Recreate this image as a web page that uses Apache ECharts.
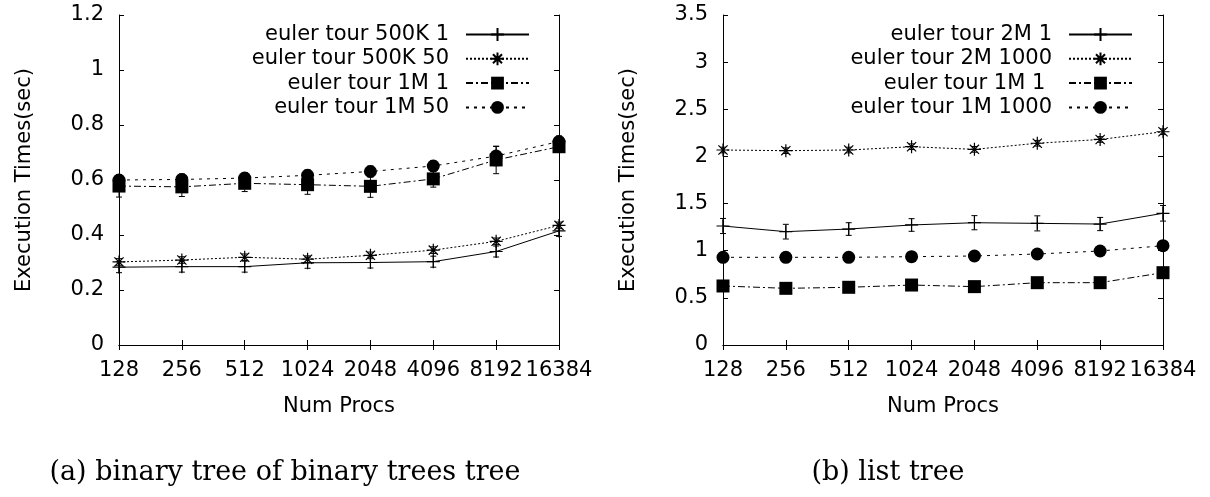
<!DOCTYPE html>
<html>
<head>
<meta charset="utf-8">
<script src="https://cdn.jsdelivr.net/npm/echarts@6/dist/echarts.min.js"></script>
<style>
  html, body { margin: 0; padding: 0; background: #fff; }
  #chart { width: 1210px; height: 497px; }
</style>
</head>
<body>
<div id="chart"></div>
<script>
// Number of processors (shared x axis of both panels)
const procs = ['128', '256', '512', '1024', '2048', '4096', '8192', '16384'];

// Panel (a): binary tree of binary trees tree — execution times (sec)
const bt500k1   = [0.283, 0.285, 0.285, 0.299, 0.300, 0.303, 0.340, 0.415];
const bt500k50  = [0.302, 0.309, 0.319, 0.312, 0.326, 0.345, 0.377, 0.435];
const bt1m1     = [0.578, 0.575, 0.588, 0.583, 0.577, 0.604, 0.673, 0.721];
const bt1m50    = [0.600, 0.602, 0.607, 0.617, 0.631, 0.651, 0.687, 0.740];
// half-widths of the error bars
const bt500k1Err  = [0.020, 0.020, 0.020, 0.020, 0.020, 0.020, 0.020, 0.020];
const bt500k50Err = [0.012, 0.012, 0.012, 0.012, 0.012, 0.012, 0.012, 0.012];
const bt1m1Err    = [0.040, 0.035, 0.030, 0.035, 0.040, 0.030, 0.050, 0.020];
const bt1m50Err   = [0.020, 0.020, 0.020, 0.020, 0.020, 0.020, 0.035, 0.020];

// Panel (b): list tree — execution times (sec)
const lt2m1     = [1.262, 1.202, 1.230, 1.273, 1.297, 1.290, 1.283, 1.397];
const lt2m1000  = [2.068, 2.061, 2.068, 2.103, 2.075, 2.140, 2.180, 2.262];
const lt1m1     = [0.626, 0.601, 0.612, 0.636, 0.619, 0.661, 0.661, 0.767];
const lt1m1000  = [0.930, 0.930, 0.930, 0.937, 0.944, 0.965, 0.997, 1.053];
const lt2m1Err    = [0.080, 0.078, 0.067, 0.067, 0.075, 0.080, 0.070, 0.083];
const lt2m1000Err = [0.030, 0.030, 0.030, 0.030, 0.030, 0.030, 0.030, 0.030];
const lt1m1Err    = [0.020, 0.020, 0.020, 0.020, 0.020, 0.020, 0.020, 0.020];
const lt1m1000Err = [0.020, 0.020, 0.020, 0.020, 0.020, 0.020, 0.020, 0.020];

// Tick settings of the value axes
const leftMax = 1.2, leftStep = 0.2;
const rightMax = 3.5, rightStep = 0.5;

const SANS = '"DejaVu Sans", sans-serif';
const SERIF = '"DejaVu Serif", serif';
const FS = 21;

// Stroked point glyphs (gnuplot-like plus and asterisk)
const plusSym = 'path://M0,6L12,6M6,0L6,12';
const starSym = 'path://M0,6L12,6M6,0L6,12M1.76,1.76L10.24,10.24M1.76,10.24L10.24,1.76';

function lineSeries(name, data, panel, symbol, dash, stroked) {
  return {
    type: 'line',
    name: name,
    data: data,
    xAxisIndex: panel * 2,
    yAxisIndex: panel * 2,
    symbol: symbol,
    symbolSize: 13,
    showAllSymbol: true,
    z: 3,
    lineStyle: { color: '#000', width: 1, type: dash },
    itemStyle: {
      color: stroked ? 'rgba(0,0,0,0)' : '#000',
      borderColor: '#000',
      borderWidth: stroked ? 1.2 : 0,
      opacity: 1
    },
    emphasis: { disabled: true }
  };
}

function errorSeries(values, errs, panel) {
  return {
    type: 'custom',
    xAxisIndex: panel * 2,
    yAxisIndex: panel * 2,
    silent: true,
    z: 2,
    encode: { x: 0, y: [1, 2] },
    data: values.map((v, i) => [i, v - errs[i], v + errs[i]]),
    renderItem: function (params, api) {
      const lo = api.coord([api.value(0), api.value(1)]);
      const hi = api.coord([api.value(0), api.value(2)]);
      const w = 3;
      const st = { stroke: '#000', lineWidth: 1 };
      return {
        type: 'group',
        children: [
          { type: 'line', shape: { x1: lo[0], y1: lo[1], x2: hi[0], y2: hi[1] }, style: st },
          { type: 'line', shape: { x1: lo[0] - w, y1: lo[1], x2: lo[0] + w, y2: lo[1] }, style: st },
          { type: 'line', shape: { x1: hi[0] - w, y1: hi[1], x2: hi[0] + w, y2: hi[1] }, style: st }
        ]
      };
    }
  };
}

function xAxes(grid) {
  const base = {
    type: 'category',
    gridIndex: grid,
    data: procs,
    boundaryGap: false,
    axisLine: { show: true, lineStyle: { color: '#000', width: 1 } },
    axisTick: { show: true, inside: true, length: 5, lineStyle: { color: '#000' } },
    splitLine: { show: false }
  };
  return [
    Object.assign({}, base, {
      position: 'bottom',
      name: 'Num Procs',
      nameLocation: 'middle',
      nameGap: 51,
      nameTextStyle: { fontFamily: SANS, fontSize: FS, color: '#000' },
      axisLabel: { interval: 0, margin: 15, fontFamily: SANS, fontSize: FS, color: '#000', hideOverlap: false }
    }),
    Object.assign({}, base, { position: 'top', axisLabel: { show: false } })
  ];
}

function yAxes(grid, max, step) {
  const base = {
    type: 'value',
    gridIndex: grid,
    min: 0,
    max: max,
    interval: step,
    axisLine: { show: true, lineStyle: { color: '#000', width: 1 } },
    axisTick: { show: true, inside: true, length: 5, lineStyle: { color: '#000' } },
    splitLine: { show: false }
  };
  return [
    Object.assign({}, base, {
      position: 'left',
      name: 'Execution Times(sec)',
      nameLocation: 'middle',
      nameGap: 84,
      nameTextStyle: { fontFamily: SANS, fontSize: FS, color: '#000' },
      axisLabel: { margin: 15, fontFamily: SANS, fontSize: FS, color: '#000' }
    }),
    Object.assign({}, base, { position: 'right', axisLabel: { show: false } })
  ];
}

function legend(names, right) {
  return {
    data: names,
    orient: 'vertical',
    align: 'right',
    right: right,
    top: 19,
    itemWidth: 63,
    itemHeight: 16,
    itemGap: 3.3,
    inactiveColor: '#000',
    selectedMode: false,
    textStyle: { fontFamily: SANS, fontSize: FS, color: '#000', padding: [0, 12, 0, 0] }
  };
}

const namesA = ['euler tour 500K 1', 'euler tour 500K 50', 'euler tour 1M 1', 'euler tour 1M 50'];
const namesB = ['euler tour 2M 1', 'euler tour 2M 1000', 'euler tour 1M 1 ', 'euler tour 1M 1000'];

const chart = echarts.init(document.getElementById('chart'), null, { renderer: 'canvas' });
chart.setOption({
  backgroundColor: '#fff',
  animation: false,
  grid: [
    { left: 119, top: 15, width: 440, height: 330 },
    { left: 723, top: 15, width: 440, height: 330 }
  ],
  xAxis: xAxes(0).concat(xAxes(1)),
  yAxis: yAxes(0, leftMax, leftStep).concat(yAxes(1, rightMax, rightStep)),
  legend: [legend(namesA, 675), legend(namesB, 72)],
  series: [
    errorSeries(bt500k1, bt500k1Err, 0),
    errorSeries(bt500k50, bt500k50Err, 0),
    errorSeries(bt1m1, bt1m1Err, 0),
    errorSeries(bt1m50, bt1m50Err, 0),
    lineSeries(namesA[0], bt500k1, 0, plusSym, 'solid', true),
    lineSeries(namesA[1], bt500k50, 0, starSym, [2, 2], true),
    lineSeries(namesA[2], bt1m1, 0, 'rect', [7, 3, 2, 3], false),
    lineSeries(namesA[3], bt1m50, 0, 'circle', [3, 5], false),

    errorSeries(lt2m1, lt2m1Err, 1),
    errorSeries(lt2m1000, lt2m1000Err, 1),
    errorSeries(lt1m1, lt1m1Err, 1),
    errorSeries(lt1m1000, lt1m1000Err, 1),
    lineSeries(namesB[0], lt2m1, 1, plusSym, 'solid', true),
    lineSeries(namesB[1], lt2m1000, 1, starSym, [2, 2], true),
    lineSeries(namesB[2], lt1m1, 1, 'rect', [7, 3, 2, 3], false),
    lineSeries(namesB[3], lt1m1000, 1, 'circle', [3, 5], false)
  ],
  graphic: [
    { type: 'text', x: 285, y: 473, style: { text: '(a) binary tree of binary trees tree', font: '27px ' + SERIF, fill: '#000', align: 'center', verticalAlign: 'middle' } },
    { type: 'text', x: 888, y: 473, style: { text: '(b) list tree', font: '27px ' + SERIF, fill: '#000', align: 'center', verticalAlign: 'middle' } }
  ]
});
</script>
</body>
</html>
